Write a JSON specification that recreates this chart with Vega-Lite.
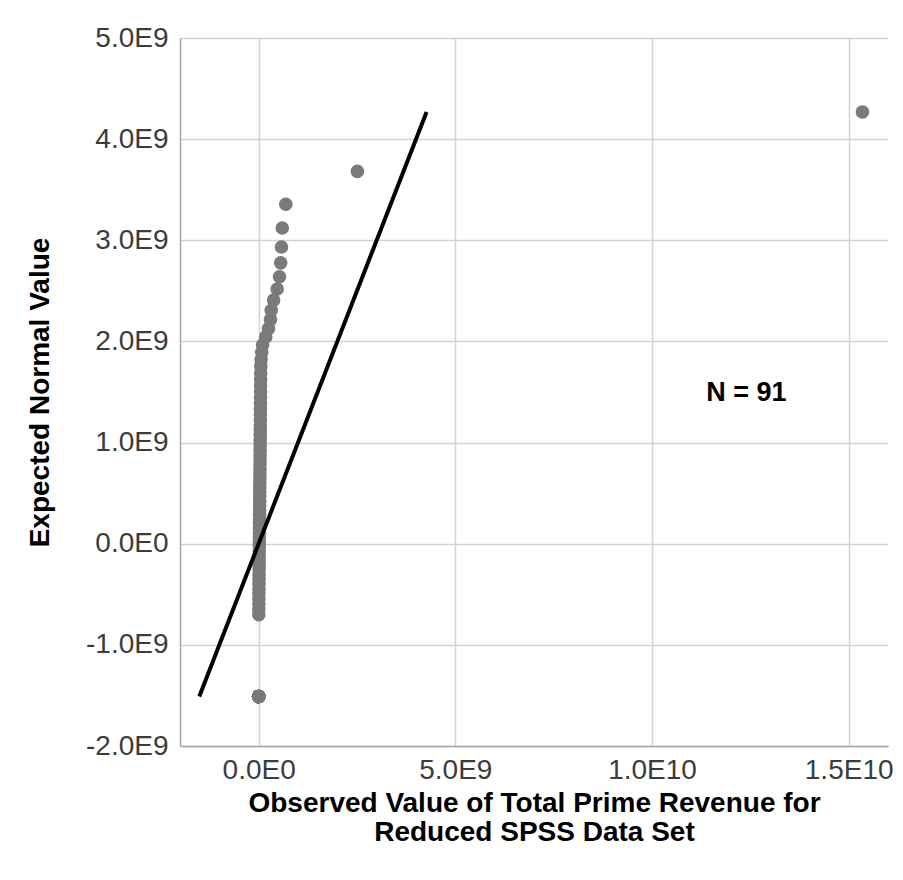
{
  "$schema": "https://vega.github.io/schema/vega-lite/v6.json",
  "autosize": "none",
  "width": 708,
  "height": 708,
  "padding": {"left": 180, "top": 38, "right": 15, "bottom": 134},
  "background": "white",
  "config": {
    "view": {"stroke": null},
    "font": "Liberation Sans",
    "axis": {
      "grid": true,
      "gridColor": "#d2d2d2",
      "gridWidth": 1.5,
      "domainColor": "#a6a6a6",
      "domainWidth": 1.5,
      "ticks": false,
      "labelFont": "Liberation Sans",
      "labelFontSize": 28,
      "labelColor": "#3c3c3c",
      "titleFont": "Liberation Sans",
      "titleFontSize": 28,
      "titleFontWeight": "bold",
      "titleColor": "#000000"
    }
  },
  "datasets": {
    "points": [
      {"observed": 0, "expected": -1510000000},
      {"observed": 0, "expected": -1510000000},
      {"observed": 0, "expected": -1510000000},
      {"observed": 0, "expected": -1510000000},
      {"observed": 0, "expected": -1510000000},
      {"observed": 0, "expected": -1510000000},
      {"observed": 0, "expected": -1510000000},
      {"observed": 0, "expected": -1510000000},
      {"observed": 0, "expected": -1510000000},
      {"observed": 0, "expected": -1510000000},
      {"observed": 0, "expected": -1510000000},
      {"observed": 0, "expected": -1510000000},
      {"observed": 0, "expected": -1510000000},
      {"observed": 0, "expected": -1510000000},
      {"observed": 0, "expected": -1510000000},
      {"observed": 0, "expected": -1510000000},
      {"observed": 0, "expected": -1510000000},
      {"observed": 0, "expected": -1510000000},
      {"observed": 0, "expected": -1510000000},
      {"observed": 0, "expected": -1510000000},
      {"observed": 0, "expected": -1510000000},
      {"observed": 0, "expected": -1510000000},
      {"observed": 0, "expected": -1510000000},
      {"observed": 0, "expected": -1510000000},
      {"observed": 3000000, "expected": -702000000},
      {"observed": 4000000, "expected": -650000000},
      {"observed": 5000000, "expected": -597000000},
      {"observed": 5500000, "expected": -545000000},
      {"observed": 6000000, "expected": -495000000},
      {"observed": 7000000, "expected": -447000000},
      {"observed": 8000000, "expected": -397000000},
      {"observed": 9000000, "expected": -348000000},
      {"observed": 10000000, "expected": -301000000},
      {"observed": 11000000, "expected": -253000000},
      {"observed": 12000000, "expected": -206000000},
      {"observed": 13000000, "expected": -161000000},
      {"observed": 14000000, "expected": -116000000},
      {"observed": 15000000, "expected": -71000000},
      {"observed": 16000000, "expected": -25000000},
      {"observed": 17000000, "expected": 20000000},
      {"observed": 18000000, "expected": 65000000},
      {"observed": 19000000, "expected": 110000000},
      {"observed": 20000000, "expected": 156000000},
      {"observed": 21000000, "expected": 199000000},
      {"observed": 22000000, "expected": 244000000},
      {"observed": 23000000, "expected": 288000000},
      {"observed": 24000000, "expected": 332000000},
      {"observed": 25000000, "expected": 377000000},
      {"observed": 26000000, "expected": 420000000},
      {"observed": 27000000, "expected": 466000000},
      {"observed": 28000000, "expected": 511000000},
      {"observed": 29000000, "expected": 556000000},
      {"observed": 30000000, "expected": 601000000},
      {"observed": 31000000, "expected": 647000000},
      {"observed": 32000000, "expected": 692000000},
      {"observed": 33000000, "expected": 737000000},
      {"observed": 34000000, "expected": 782000000},
      {"observed": 35000000, "expected": 829000000},
      {"observed": 36000000, "expected": 877000000},
      {"observed": 37000000, "expected": 924000000},
      {"observed": 38000000, "expected": 973000000},
      {"observed": 39000000, "expected": 1023000000},
      {"observed": 40000000, "expected": 1071000000},
      {"observed": 41000000, "expected": 1121000000},
      {"observed": 42000000, "expected": 1173000000},
      {"observed": 43000000, "expected": 1226000000},
      {"observed": 44000000, "expected": 1278000000},
      {"observed": 45000000, "expected": 1333000000},
      {"observed": 46000000, "expected": 1388000000},
      {"observed": 47000000, "expected": 1444000000},
      {"observed": 48000000, "expected": 1502000000},
      {"observed": 49000000, "expected": 1562000000},
      {"observed": 50000000, "expected": 1624000000},
      {"observed": 52000000, "expected": 1688000000},
      {"observed": 55000000, "expected": 1753000000},
      {"observed": 62000000, "expected": 1821000000},
      {"observed": 78000000, "expected": 1892000000},
      {"observed": 100000000, "expected": 1966000000},
      {"observed": 180000000, "expected": 2045000000},
      {"observed": 250000000, "expected": 2127000000},
      {"observed": 300000000, "expected": 2215000000},
      {"observed": 320000000, "expected": 2308000000},
      {"observed": 380000000, "expected": 2408000000},
      {"observed": 470000000, "expected": 2518000000},
      {"observed": 530000000, "expected": 2639000000},
      {"observed": 560000000, "expected": 2777000000},
      {"observed": 580000000, "expected": 2933000000},
      {"observed": 600000000, "expected": 3121000000},
      {"observed": 690000000, "expected": 3356000000},
      {"observed": 2510000000, "expected": 3681000000},
      {"observed": 15350000000, "expected": 4269000000}
    ],
    "refline": [
      {"observed": -1510000000, "expected": -1510000000},
      {"observed": 4269000000, "expected": 4269000000}
    ]
  },
  "layer": [
    {
      "data": {"name": "points"},
      "mark": {"type": "point", "filled": true, "opacity": 1, "size": 185, "color": "#7a7a7a", "shape": "circle"},
      "encoding": {
        "x": {
          "field": "observed",
          "type": "quantitative",
          "scale": {"domain": [-2000000000, 16000000000], "nice": false, "zero": false},
          "axis": {
            "values": [0, 5000000000, 10000000000, 15000000000],
            "labelExpr": "replace(replace(format(datum.value, '.1e'), 'e+', 'E'), '\u2212', '-')",
            "labelPadding": 10,
            "titlePadding": 5,
            "titleLineHeight": 29,
            "title": ["Observed Value of Total Prime Revenue for", "Reduced SPSS Data Set"]
          }
        },
        "y": {
          "field": "expected",
          "type": "quantitative",
          "scale": {"domain": [-2000000000, 5000000000], "nice": false, "zero": false},
          "axis": {
            "values": [-2000000000, -1000000000, 0, 1000000000, 2000000000, 3000000000, 4000000000, 5000000000],
            "labelExpr": "replace(replace(format(datum.value, '.1e'), 'e+', 'E'), '\u2212', '-')",
            "labelPadding": 12,
            "titlePadding": 31,
            "title": "Expected Normal Value"
          }
        }
      }
    },
    {
      "data": {"name": "refline"},
      "mark": {"type": "line", "color": "#000000", "strokeWidth": 4},
      "encoding": {
        "x": {"field": "observed", "type": "quantitative"},
        "y": {"field": "expected", "type": "quantitative"}
      }
    },
    {
      "data": {"values": [{"label": "N = 91", "observed": 12400000000, "expected": 1490000000}]},
      "mark": {"type": "text", "fontSize": 27, "fontWeight": "bold", "font": "Liberation Sans", "color": "#000000", "align": "center", "baseline": "middle"},
      "encoding": {
        "x": {"field": "observed", "type": "quantitative"},
        "y": {"field": "expected", "type": "quantitative"},
        "text": {"field": "label"}
      }
    }
  ]
}
